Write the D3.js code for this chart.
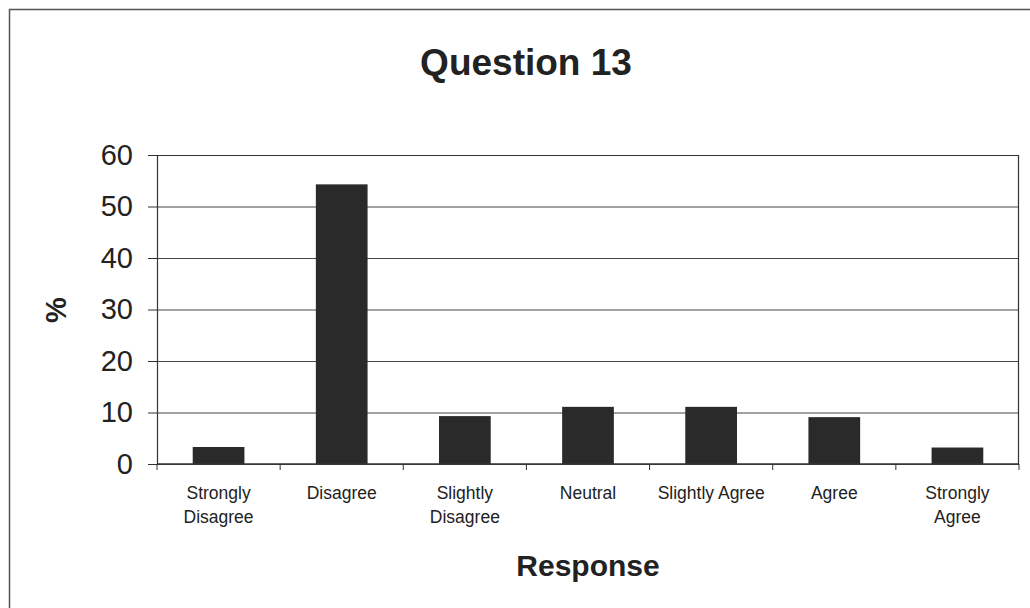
<!DOCTYPE html>
<html lang="en">
<head>
  <meta charset="UTF-8">
  <script src="https://d3js.org/d3.v7.min.js"></script>
  <style>
    body {
      margin: 0;
      padding: 0;
      background: #fff;
      font-family: "Liberation Sans", Arial, sans-serif;
      overflow: hidden;
    }
    .tick text { fill: #222; }
  </style>
</head>
<body>
  <div id="chart"></div>

  <script>
    const categories = [
      "Strongly Disagree", "Disagree", "Slightly Disagree", "Neutral",
      "Slightly Agree", "Agree", "Strongly Agree"
    ];
    const percentages = [3.3, 54.3, 9.3, 11.1, 11.1, 9.1, 3.2];
    const yTicks = [0, 10, 20, 30, 40, 50, 60];
    // how each category label is broken into lines
    const labelLines = [
      ["Strongly", "Disagree"], ["Disagree"], ["Slightly", "Disagree"], ["Neutral"],
      ["Slightly Agree"], ["Agree"], ["Strongly", "Agree"]
    ];

    const width = 1030, height = 608;
    const margin = { top: 155, right: 11, bottom: 144, left: 157 };
    const innerW = width - margin.left - margin.right;
    const innerH = height - margin.top - margin.bottom;

    const svg = d3.select("#chart")
      .append("svg")
      .attr("width", width)
      .attr("height", height);

    // outer chart frame
    svg.append("path")
      .attr("d", `M9.5,${height} V9.5 H${width}`)
      .attr("fill", "none")
      .attr("stroke", "#555")
      .attr("stroke-width", 1.5);

    svg.append("text")
      .attr("x", 526)
      .attr("y", 75)
      .attr("text-anchor", "middle")
      .attr("font-size", 37)
      .attr("font-weight", "bold")
      .attr("fill", "#222")
      .text("Question 13");

    const g = svg.append("g")
      .attr("transform", `translate(${margin.left},${margin.top})`);

    const x = d3.scaleBand()
      .domain(categories)
      .range([0, innerW])
      .paddingInner(0.58)
      .paddingOuter(0.29);

    const y = d3.scaleLinear()
      .domain([0, 60])
      .range([innerH, 0]);

    // gridlines
    g.append("g")
      .call(d3.axisLeft(y).tickValues(yTicks).tickSize(-innerW).tickFormat(""))
      .call(a => a.select(".domain").remove())
      .call(a => a.selectAll("line").attr("stroke", "#444").attr("stroke-width", 1));

    // plot border (top and right)
    g.append("path")
      .attr("d", `M0,0.5 H${innerW - 0.5} V${innerH}`)
      .attr("fill", "none")
      .attr("stroke", "#333")
      .attr("stroke-width", 1.2);

    g.selectAll(".bar")
      .data(percentages)
      .enter()
      .append("rect")
      .attr("class", "bar")
      .attr("x", (d, i) => x(categories[i]))
      .attr("width", x.bandwidth())
      .attr("y", d => y(d))
      .attr("height", d => innerH - y(d))
      .attr("fill", "#2a2a2a");

    // y axis
    g.append("g")
      .call(d3.axisLeft(y).tickValues(yTicks).tickSize(9).tickPadding(15))
      .call(a => a.select(".domain").attr("stroke", "#333").attr("stroke-width", 1.2))
      .call(a => a.selectAll("line").attr("stroke", "#333"))
      .call(a => a.selectAll("text")
        .attr("font-size", 29)
        .attr("font-family", "'Liberation Sans', Arial, sans-serif"));

    // x axis: ticks at category boundaries
    const step = x.step();
    const boundaries = d3.range(categories.length + 1).map(i => i * step);
    const xAxis = g.append("g").attr("transform", `translate(0,${innerH})`);
    xAxis.append("line")
      .attr("x1", 0).attr("x2", innerW)
      .attr("stroke", "#333").attr("stroke-width", 1.5);
    xAxis.selectAll(".xtick")
      .data(boundaries)
      .enter()
      .append("line")
      .attr("x1", d => d).attr("x2", d => d)
      .attr("y1", 0).attr("y2", 6)
      .attr("stroke", "#333");

    xAxis.selectAll(".xlabel")
      .data(categories)
      .enter()
      .append("text")
      .attr("text-anchor", "middle")
      .attr("font-size", 17.5)
      .attr("fill", "#222")
      .attr("transform", d => `translate(${x(d) + x.bandwidth() / 2},35)`)
      .each(function (d, i) {
        d3.select(this).selectAll("tspan")
          .data(labelLines[i])
          .enter()
          .append("tspan")
          .attr("x", 0)
          .attr("dy", (t, j) => j === 0 ? 0 : 24)
          .text(t => t);
      });

    svg.append("text")
      .attr("x", margin.left + innerW / 2)
      .attr("y", 576)
      .attr("text-anchor", "middle")
      .attr("font-size", 30)
      .attr("font-weight", "bold")
      .attr("fill", "#222")
      .text("Response");

    svg.append("text")
      .attr("transform", "translate(66,310) rotate(-90)")
      .attr("text-anchor", "middle")
      .attr("font-size", 29)
      .attr("font-weight", "bold")
      .attr("fill", "#222")
      .text("%");
  </script>
</body>
</html>
